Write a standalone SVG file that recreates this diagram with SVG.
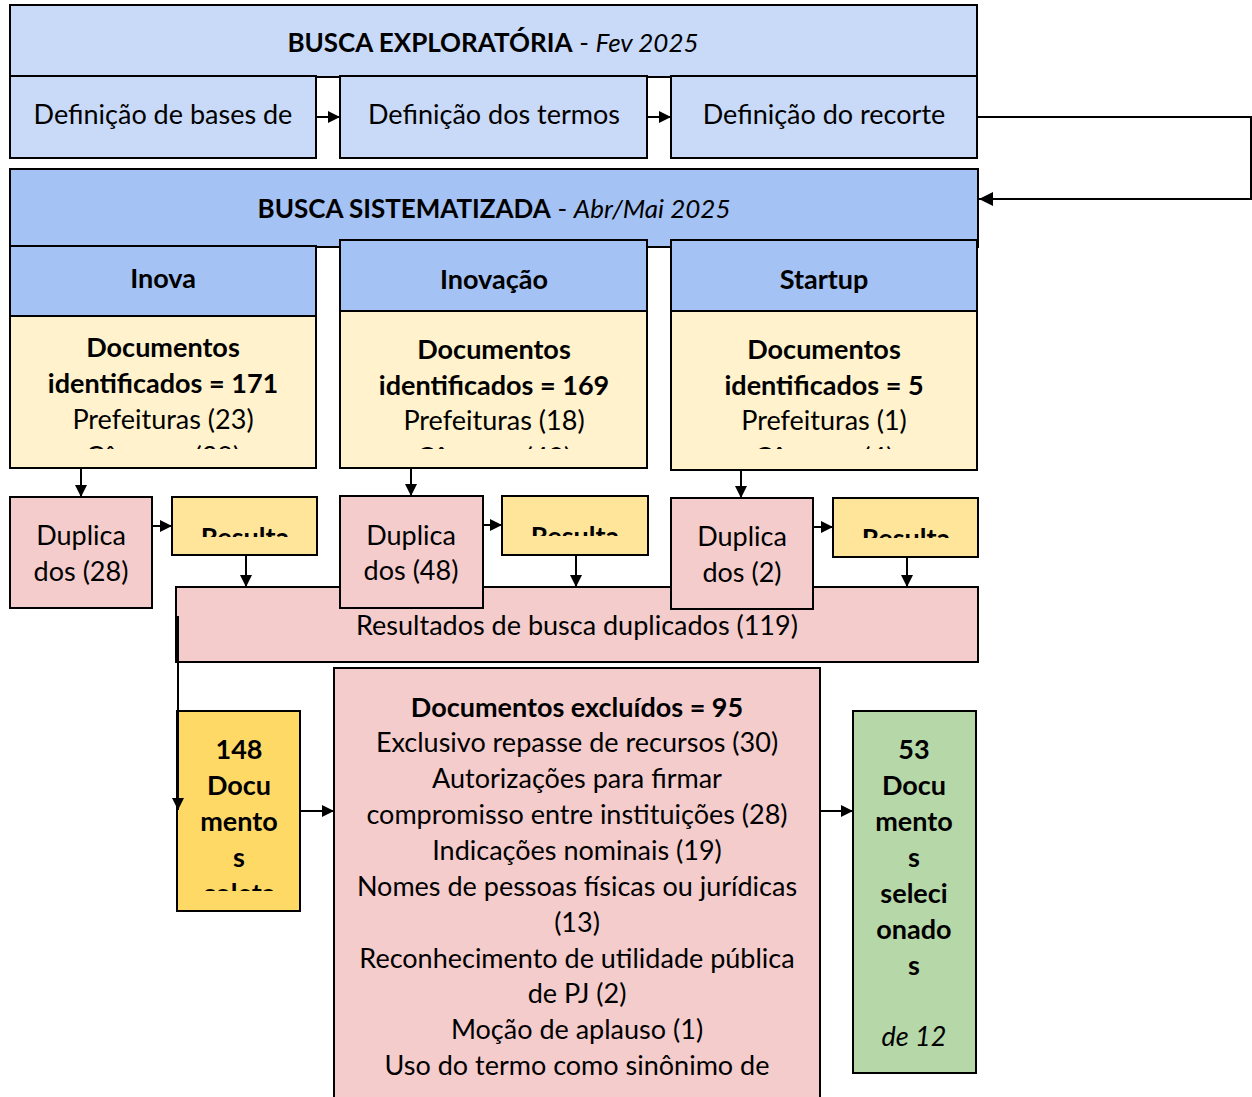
<svg xmlns="http://www.w3.org/2000/svg" width="1252" height="1097" viewBox="0 0 1252 1097">
<style>
.b{stroke:#000;stroke-width:2}
.lb{fill:#C9DAF8}
.hb{fill:#A4C2F4}
.ly{fill:#FFF2CC}
.pk{fill:#F4CCCC}
.yl{fill:#FFE599}
.gd{fill:#FFD966}
.gr{fill:#B6D7A8}
text{font-family:Lato,"Open Sans","DejaVu Sans",sans-serif;font-size:27px;fill:#000;text-anchor:middle}
.hd{font-size:26px}
.bd{font-weight:bold}
.it{font-style:italic;font-weight:normal}
.c{fill:none;stroke:#000;stroke-width:2}
</style>
<defs>
<marker id="ah" viewBox="0 0 12 12" refX="12" refY="6" markerWidth="12" markerHeight="12" markerUnits="userSpaceOnUse" orient="auto">
<path d="M0,0 L12,6 L0,12 z" fill="#000"/>
</marker>
<marker id="ahL" viewBox="0 0 14 14" refX="14" refY="7" markerWidth="14" markerHeight="14" markerUnits="userSpaceOnUse" orient="auto">
<path d="M0,0 L14,7 L0,14 z" fill="#000"/>
</marker>
<clipPath id="c1"><rect x="10" y="316" width="306" height="133"/></clipPath>
<clipPath id="c2"><rect x="340" y="311" width="307" height="138"/></clipPath>
<clipPath id="c3"><rect x="671" y="311" width="306" height="138"/></clipPath>
<clipPath id="r1"><rect x="172" y="497" width="145" height="40"/></clipPath>
<clipPath id="r2"><rect x="502" y="496" width="146" height="40"/></clipPath>
<clipPath id="r3"><rect x="833" y="498" width="145" height="40"/></clipPath>
<clipPath id="k1"><rect x="177" y="711" width="123" height="180"/></clipPath>
</defs>

<g id="busca-exploratoria">
<rect class="b lb" x="10" y="5" width="967" height="72"/>
<text class="hd" x="493" y="52"><tspan class="bd">BUSCA EXPLORATÓRIA</tspan> - <tspan class="it">Fev 2025</tspan></text>
</g>
<g id="def-bases">
<rect class="b lb" x="10" y="76" width="306" height="82"/>
<text x="163" y="124">Definição de bases de</text>
</g>
<g id="def-termos">
<rect class="b lb" x="340" y="76" width="307" height="82"/>
<text x="494" y="124">Definição dos termos</text>
</g>
<g id="def-recorte">
<rect class="b lb" x="671" y="76" width="306" height="82"/>
<text x="824" y="124">Definição do recorte</text>
</g>

<g id="busca-sistematizada">
<rect class="b hb" x="10" y="169" width="968" height="78"/>
<text class="hd" x="494" y="218"><tspan class="bd">BUSCA SISTEMATIZADA</tspan> - <tspan class="it">Abr/Mai 2025</tspan></text>
</g>
<g id="inova">
<rect class="b hb" x="10" y="246" width="306" height="70"/>
<text class="bd" x="163" y="288">Inova</text>
</g>
<g id="inovacao">
<rect class="b hb" x="340" y="240" width="307" height="71"/>
<text class="bd" x="494" y="289">Inovação</text>
</g>
<g id="startup">
<rect class="b hb" x="671" y="240" width="306" height="71"/>
<text class="bd" x="824" y="289">Startup</text>
</g>

<g id="docs-inova">
<rect class="b ly" x="10" y="316" width="306" height="152"/>
<g clip-path="url(#c1)">
<text class="bd" x="163" y="357">Documentos</text>
<text class="bd" x="163" y="393">identificados = 171</text>
<text x="163" y="429">Prefeituras (23)</text>
<text x="163" y="466">Câmaras (38)</text>
</g>
</g>
<g id="docs-inovacao">
<rect class="b ly" x="340" y="311" width="307" height="157"/>
<g clip-path="url(#c2)">
<text class="bd" x="494" y="359">Documentos</text>
<text class="bd" x="494" y="395">identificados = 169</text>
<text x="494" y="430">Prefeituras (18)</text>
<text x="494" y="467">Câmaras (42)</text>
</g>
</g>
<g id="docs-startup">
<rect class="b ly" x="671" y="311" width="306" height="159"/>
<g clip-path="url(#c3)">
<text class="bd" x="824" y="359">Documentos</text>
<text class="bd" x="824" y="395">identificados = 5</text>
<text x="824" y="430">Prefeituras (1)</text>
<text x="824" y="467">Câmaras (4)</text>
</g>
</g>

<g id="resultados-duplicados">
<rect class="b pk" x="176" y="587" width="802" height="75"/>
<text x="577" y="635">Resultados de busca duplicados (119)</text>
</g>

<g id="dup-inova">
<rect class="b pk" x="10" y="497" width="142" height="111"/>
<text x="81" y="545">Duplica</text>
<text x="81" y="581">dos (28)</text>
</g>
<g id="dup-inovacao">
<rect class="b pk" x="340" y="496" width="143" height="112"/>
<text x="411" y="545">Duplica</text>
<text x="411" y="580">dos (48)</text>
</g>
<g id="dup-startup">
<rect class="b pk" x="671" y="498" width="142" height="111"/>
<text x="742" y="546">Duplica</text>
<text x="742" y="582">dos (2)</text>
</g>

<g id="res-inova">
<rect class="b yl" x="172" y="497" width="145" height="58"/>
<text class="bd" x="245" y="547" clip-path="url(#r1)">Resulta</text>
</g>
<g id="res-inovacao">
<rect class="b yl" x="502" y="496" width="146" height="59"/>
<text class="bd" x="575" y="546" clip-path="url(#r2)">Resulta</text>
</g>
<g id="res-startup">
<rect class="b yl" x="833" y="498" width="145" height="59"/>
<text class="bd" x="906" y="548" clip-path="url(#r3)">Resulta</text>
</g>

<g id="coletados">
<rect class="b gd" x="177" y="711" width="123" height="200"/>
<g clip-path="url(#k1)">
<text class="bd" x="239" y="759">148</text>
<text class="bd" x="239" y="795">Docu</text>
<text class="bd" x="239" y="831">mento</text>
<text class="bd" x="239" y="867">s</text>
<text class="bd" x="239" y="903">coleta</text>
</g>
</g>

<g id="excluidos">
<rect class="b pk" x="334" y="668" width="486" height="450"/>
<text class="bd" x="577" y="717">Documentos excluídos = 95</text>
<text x="577" y="752">Exclusivo repasse de recursos (30)</text>
<text x="577" y="788">Autorizações para firmar</text>
<text x="577" y="824">compromisso entre instituições (28)</text>
<text x="577" y="860">Indicações nominais (19)</text>
<text x="577" y="896">Nomes de pessoas físicas ou jurídicas</text>
<text x="577" y="932">(13)</text>
<text x="577" y="968">Reconhecimento de utilidade pública</text>
<text x="577" y="1003">de PJ (2)</text>
<text x="577" y="1039">Moção de aplauso (1)</text>
<text x="577" y="1075">Uso do termo como sinônimo de</text>
</g>

<g id="selecionados">
<rect class="b gr" x="853" y="711" width="123" height="362"/>
<text class="bd" x="914" y="759">53</text>
<text class="bd" x="914" y="795">Docu</text>
<text class="bd" x="914" y="831">mento</text>
<text class="bd" x="914" y="867">s</text>
<text class="bd" x="914" y="903">seleci</text>
<text class="bd" x="914" y="939">onado</text>
<text class="bd" x="914" y="975">s</text>
<text class="it" x="914" y="1046">de 12</text>
</g>

<g id="connectors">
<line class="c" x1="316" y1="117" x2="340" y2="117" marker-end="url(#ah)"/>
<line class="c" x1="647" y1="117" x2="671" y2="117" marker-end="url(#ah)"/>
<polyline class="c" points="977,117 1251,117 1251,199 979,199" marker-end="url(#ahL)"/>
<line class="c" x1="81" y1="468" x2="81" y2="497" marker-end="url(#ah)"/>
<line class="c" x1="411" y1="468" x2="411" y2="496" marker-end="url(#ah)"/>
<line class="c" x1="741" y1="470" x2="741" y2="498" marker-end="url(#ah)"/>
<line class="c" x1="152" y1="526" x2="172" y2="526" marker-end="url(#ah)"/>
<line class="c" x1="483" y1="525" x2="502" y2="525" marker-end="url(#ah)"/>
<line class="c" x1="813" y1="527" x2="833" y2="527" marker-end="url(#ah)"/>
<line class="c" x1="246" y1="555" x2="246" y2="587" marker-end="url(#ah)"/>
<line class="c" x1="576" y1="555" x2="576" y2="587" marker-end="url(#ah)"/>
<line class="c" x1="907" y1="557" x2="907" y2="587" marker-end="url(#ah)"/>
<line class="c" x1="178" y1="616" x2="178" y2="810" marker-end="url(#ah)"/>
<line class="c" x1="300" y1="811" x2="334" y2="811" marker-end="url(#ah)"/>
<line class="c" x1="820" y1="811" x2="853" y2="811" marker-end="url(#ah)"/>
</g>
</svg>
